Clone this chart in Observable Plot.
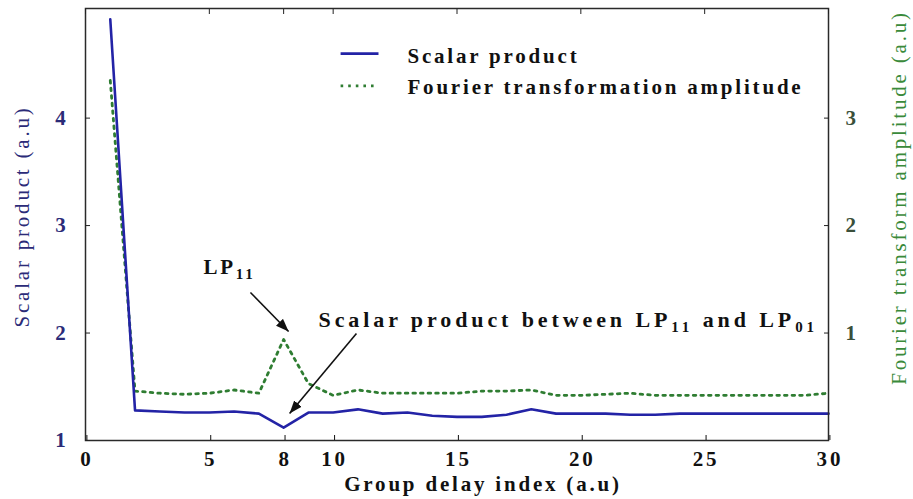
<!DOCTYPE html>
<html>
<head>
<meta charset="utf-8">
<script src="https://cdn.jsdelivr.net/npm/d3@7"></script>
<script src="https://cdn.jsdelivr.net/npm/@observablehq/plot@0.6"></script>
<style>
  html, body { margin: 0; padding: 0; background: #fff; }
  #chart { width: 913px; height: 499px; }
</style>
</head>
<body>
<div id="chart"></div>
<script>
// ---- data ----
const groupIndex = [1,2,3,4,5,6,7,8,9,10,11,12,13,14,15,16,17,18,19,20,21,22,23,24,25,26,27,28,29,30];
const scalarProduct = [4.92,1.28,1.27,1.26,1.26,1.27,1.25,1.12,1.26,1.26,1.29,1.25,1.26,1.23,1.22,1.22,1.24,1.29,1.25,1.25,1.25,1.24,1.24,1.25,1.25,1.25,1.25,1.25,1.25,1.25];
const fourierAmplitude = [3.35,0.46,0.44,0.43,0.44,0.47,0.44,0.94,0.53,0.42,0.47,0.44,0.44,0.44,0.44,0.46,0.46,0.47,0.42,0.42,0.43,0.44,0.42,0.42,0.42,0.42,0.42,0.42,0.42,0.44];

const xTicks = [0,5,8,10,15,20,25,30];
const leftTicks = [1,2,3,4];
const rightTicks = [1,2,3];
const xDomain = [0, 30];
const leftDomain = [1, 5.02];
const rightDomain = [0, 4.02];

const seriesNames = ["Scalar product", "Fourier transformation amplitude"];
const xTitle = "Group delay index (a.u)";
const leftTitle = "Scalar product (a.u)";
const rightTitle = "Fourier transform amplitude (a.u)";

// annotations (data coordinates: x = group delay index, y = scalar product units)
const annotationTexts = ["LP_{11}", "Scalar product between LP_{11} and LP_{01}"];
const annotationX = [4.76, 9.41];
const annotationY = [2.61, 2.125];
const arrowFromX = [6.66, 10.94];
const arrowFromY = [2.377, 1.995];
const arrowToX = [8.20, 8.24];
const arrowToY = [2.014, 1.251];

// legend placement (data coordinates)
const legendLineX1 = [10.30, 10.30];
const legendLineX2 = [11.83, 11.83];
const legendLineY = [4.60, 4.30];
const legendTextX = [13.0, 13.0];
const legendTextY = [4.58, 4.285];

// ---- build ----
const blue = "#2323a6";
const green = "#2f7d32";
const navy = "#2b2b78";
const toLeft = d3.scaleLinear().domain(rightDomain).range(leftDomain);

const rows = groupIndex.map((g, i) => ({index: g, scalar: scalarProduct[i], fourier: fourierAmplitude[i]}));
const annotations = annotationTexts.map((t, i) => ({text: t, x: annotationX[i], y: annotationY[i]}));
const arrows = arrowFromX.map((x, i) => ({x1: x, y1: arrowFromY[i], x2: arrowToX[i], y2: arrowToY[i]}));
const legend = seriesNames.map((n, i) => ({name: n, x1: legendLineX1[i], x2: legendLineX2[i], y: legendLineY[i], tx: legendTextX[i], ty: legendTextY[i]}));

function arrowHead(color, context) {
  const ns = "http://www.w3.org/2000/svg";
  const m = document.createElementNS(ns, "marker");
  m.setAttribute("viewBox", "0 -5 12 10");
  m.setAttribute("refX", "12");
  m.setAttribute("refY", "0");
  m.setAttribute("markerWidth", "13");
  m.setAttribute("markerHeight", "11");
  m.setAttribute("markerUnits", "userSpaceOnUse");
  m.setAttribute("orient", "auto");
  const p = document.createElementNS(ns, "path");
  p.setAttribute("d", "M0,-4.5L12,0L0,4.5Z");
  p.setAttribute("fill", color);
  p.setAttribute("stroke", "none");
  m.appendChild(p);
  return m;
}

const chart = Plot.plot({
  width: 913,
  height: 499,
  marginLeft: 85,
  marginRight: 85,
  marginTop: 8,
  marginBottom: 59,
  x: {domain: xDomain},
  y: {domain: leftDomain},
  style: {fontFamily: "'Liberation Serif', serif", fontSize: "21px", letterSpacing: "2.8px", background: "#fff", color: "#111"},
  marks: [
    // data lines
    Plot.line(rows, {x: "index", y: d => toLeft(d.fourier), stroke: green, strokeWidth: 2.8, strokeDasharray: "2.6 5"}),
    Plot.line(rows, {x: "index", y: "scalar", stroke: blue, strokeWidth: 2.6}),
    // frame and axes
    Plot.frame({stroke: "#2a2a2a", strokeWidth: 1.5}),
    Plot.axisX(xTicks, {anchor: "bottom", tickSize: -5, tickPadding: 16, fontWeight: "bold", fontSize: 21, label: null, color: "#111", tickFormat: "d", dx: 1.4}),
    Plot.axisX(xTicks, {anchor: "top", tickSize: -5, fill: "none", stroke: "#222", label: null}),
    Plot.axisY(leftTicks, {anchor: "left", tickSize: -5, tickPadding: 22, fontWeight: "bold", fontSize: 21, fill: navy, stroke: "#222", label: null, tickFormat: "d"}),
    Plot.axisY(rightTicks.map(v => toLeft(v)), {anchor: "right", tickSize: -5, tickPadding: 22, fontWeight: "bold", fontSize: 21, fill: "#3a4f3a", stroke: "#222", label: null,
      tickFormat: d => String(Math.round(toLeft.invert(d)))}),
    // axis titles
    Plot.text([xTitle], {frameAnchor: "bottom", textAnchor: "middle", dy: 50, dx: 26, fontWeight: "bold", fontSize: 21, fill: "#111"}),
    Plot.text([leftTitle], {frameAnchor: "left", textAnchor: "middle", rotate: -90, dx: -63, dy: -8, fontSize: 21, fill: navy}),
    Plot.text([rightTitle], {frameAnchor: "right", textAnchor: "middle", rotate: -90, dx: 71, dy: -27, fontSize: 21, fill: "#3a8a3a"}),
    // legend
    Plot.link(legend.slice(0, 1), {x1: "x1", x2: "x2", y1: "y", y2: "y", stroke: blue, strokeWidth: 2.6}),
    Plot.link(legend.slice(1), {x1: "x1", x2: "x2", y1: "y", y2: "y", stroke: green, strokeWidth: 2.8, strokeDasharray: "2.6 5"}),
    Plot.text(legend, {x: "tx", y: "ty", text: "name", textAnchor: "start", lineAnchor: "middle", fontWeight: "bold", fontSize: 21, fill: "#111"}),
    // annotations
    Plot.link(arrows, {x1: "x1", y1: "y1", x2: "x2", y2: "y2", stroke: "#111", strokeWidth: 1.6, markerEnd: arrowHead}),
    Plot.text(annotations, {x: "x", y: "y", text: "text", textAnchor: "start", lineAnchor: "middle", fontWeight: "bold", fontSize: 21, fill: "#111"})
  ]
});

// subscripts: turn "_{..}" into shifted tspans
const NS = "http://www.w3.org/2000/svg";
chart.querySelectorAll("text").forEach(t => {
  const s = t.textContent;
  if (!s.includes("_{")) return;
  if (s.length > 20) { t.setAttribute("font-size", "22"); t.style.letterSpacing = "3.9px"; }
  while (t.firstChild) t.removeChild(t.firstChild);
  const re = /_\{([^}]*)\}/g;
  let last = 0, m, shifted = false;
  const add = (str, sub) => {
    const ts = document.createElementNS(NS, "tspan");
    ts.textContent = str;
    if (sub) { ts.setAttribute("font-size", "15px"); ts.setAttribute("dy", "5"); shifted = true; }
    else if (shifted) { ts.setAttribute("dy", "-5"); shifted = false; }
    t.appendChild(ts);
  };
  while ((m = re.exec(s))) {
    if (m.index > last) add(s.slice(last, m.index), false);
    add(m[1], true);
    last = re.lastIndex;
  }
  if (last < s.length) add(s.slice(last), false);
});

document.getElementById("chart").appendChild(chart);
</script>
</body>
</html>
